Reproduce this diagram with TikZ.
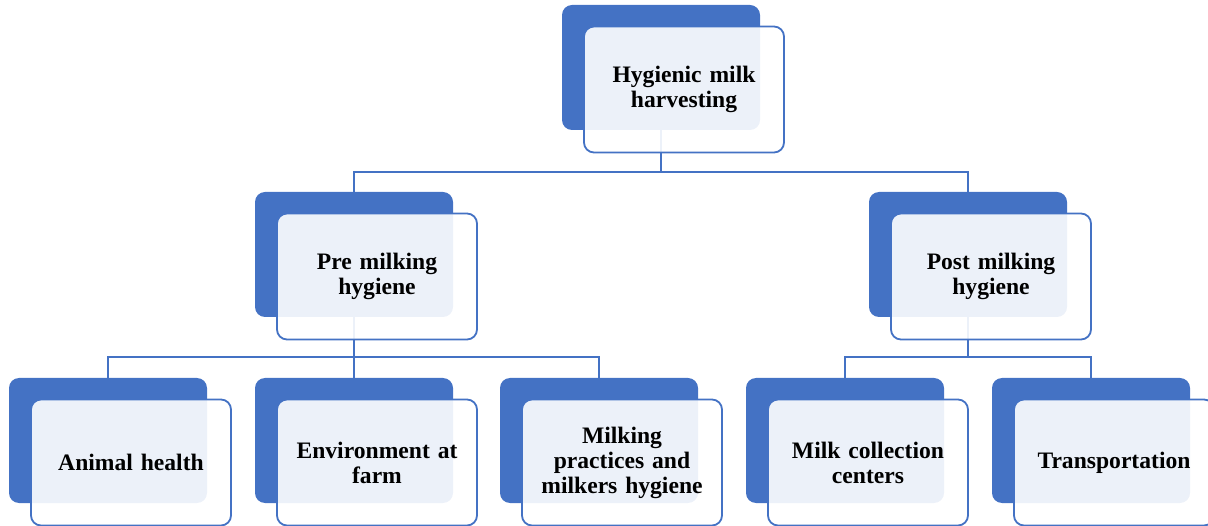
\documentclass[tikz,border=0pt]{standalone}
\usepackage{fontspec}
\setmainfont{Liberation Serif}
\usetikzlibrary{calc}
\definecolor{accent}{HTML}{4472C4}
\pgfdeclarelayer{background}
\pgfsetlayers{background,main}
\tikzset{
  backbox/.style={fill=accent, draw=none, rounded corners=10pt, minimum width=198pt, minimum height=125pt, inner sep=0pt},
  frontbox/.style={draw=accent, line width=1.8pt, fill=white, fill opacity=0.9, text opacity=1, rounded corners=10pt, minimum width=200pt, minimum height=126pt, inner sep=2pt, align=center, text width=196pt, font=\fontsize{23.6}{25}\selectfont\bfseries},
  link/.style={draw=accent, line width=1.8pt}
}
\newcommand\pairbox[4]{%
  \node[backbox] (#1b) at (#2+99, #3+62.5) {};
  \node[frontbox] (#1) at (#2+22+100, #3+21+63.5) {#4};
}
\begin{document}
\begin{tikzpicture}[x=1pt,y=-1pt]
\useasboundingbox (0,0) rectangle (1208,526);
\pairbox{top}{562}{5}{Hygienic milk\\harvesting}
\pairbox{pre}{255}{192}{Pre milking\\hygiene}
\pairbox{post}{869}{192}{Post milking\\hygiene}
\pairbox{ah}{9}{378}{Animal health}
\pairbox{env}{255}{378}{Environment at\\farm}
\pairbox{mp}{500}{378}{Milking\\practices and\\milkers hygiene}
\pairbox{mc}{746}{378}{Milk collection\\centers}
\pairbox{tr}{992}{378}{Transportation}
\coordinate (bus1) at (661,172);
\coordinate (bus2) at (354,357);
\coordinate (bus3) at (968,357);
\begin{pgfonlayer}{background}
\draw[link] (topb.center) -- (bus1) -| (preb.north);
\draw[link] (bus1) -| (postb.north);
\draw[link] (preb.center) -- (bus2) -| (ahb.north);
\draw[link] (bus2) -- (envb.north);
\draw[link] (bus2) -| (mpb.north);
\draw[link] (postb.center) -- (bus3) -| (mcb.north);
\draw[link] (bus3) -| (trb.north);
\end{pgfonlayer}
\end{tikzpicture}
\end{document}
